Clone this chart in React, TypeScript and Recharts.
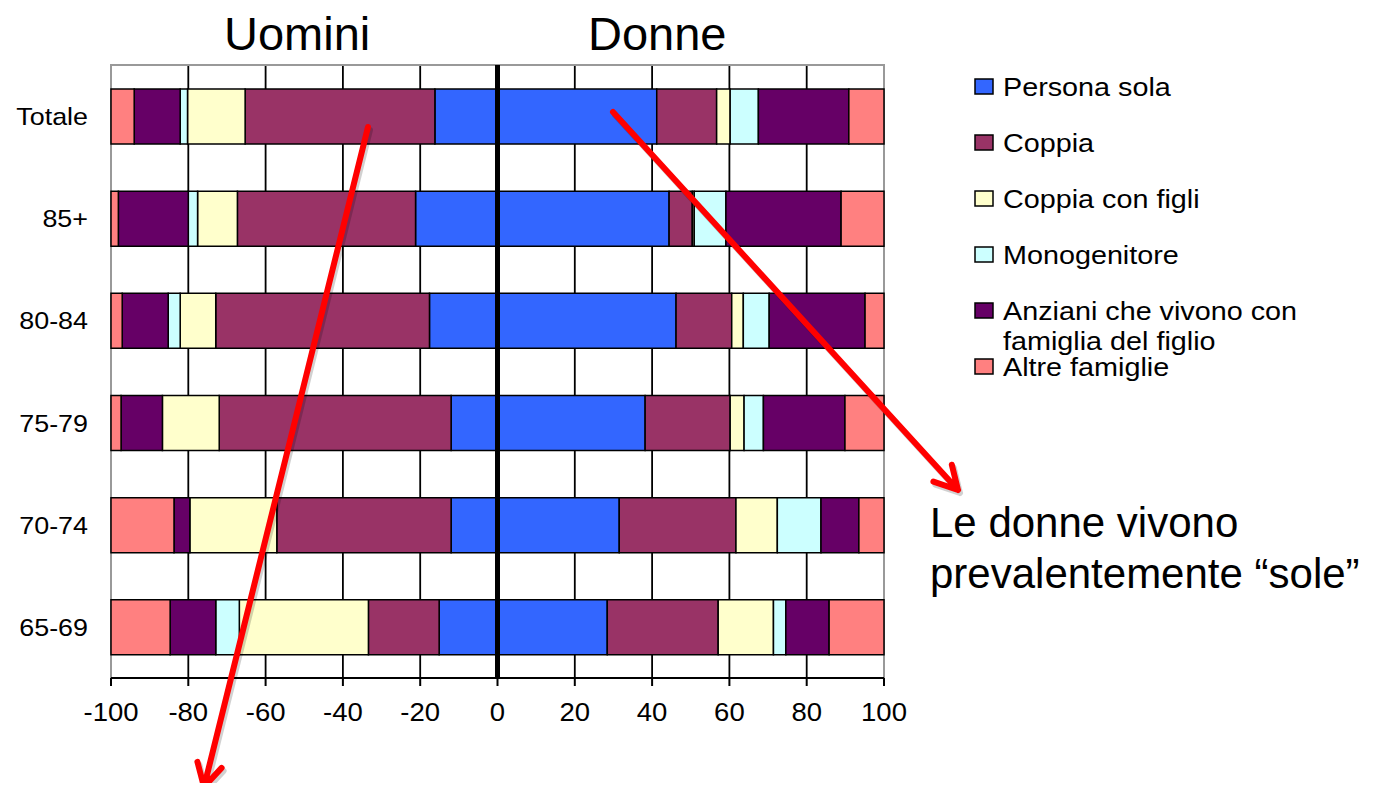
import React from 'react';
import {
  BarChart,
  Bar,
  XAxis,
  YAxis,
  CartesianGrid,
  ReferenceLine,
  ReferenceArea,
} from 'recharts';

const FONT = '"Liberation Sans", Arial, Helvetica, sans-serif';

const AGES = ['Totale', '85+', '80-84', '75-79', '70-74', '65-69'];
const X_TICKS = [-100, -80, -60, -40, -20, 0, 20, 40, 60, 80, 100];

const SERIES = [
  { key: 'sola', name: 'Persona sola', color: '#3366FF' },
  { key: 'coppia', name: 'Coppia', color: '#993366' },
  { key: 'figli', name: 'Coppia con figli', color: '#FFFFCC' },
  { key: 'mono', name: 'Monogenitore', color: '#CCFFFF' },
  { key: 'anziani', name: 'Anziani che vivono con\nfamiglia del figlio', color: '#660066' },
  { key: 'altre', name: 'Altre famiglie', color: '#FF8080' },
];

// Uomini, % (drawn to the left of zero)
const M_SOLA = [16.2, 21.2, 17.6, 12.0, 12.0, 15.1];
const M_COPPIA = [49.1, 46.1, 55.3, 60.0, 45.1, 18.3];
const M_FIGLI = [14.9, 10.3, 9.2, 14.7, 22.5, 33.4];
const M_MONO = [1.9, 2.4, 3.1, 0, 0, 6.1];
const M_ANZIANI = [11.9, 18.1, 11.9, 10.7, 4.1, 11.8];
const M_ALTRE = [6.0, 1.9, 2.9, 2.6, 16.3, 15.3];

// Donne, %
const F_SOLA = [41.2, 44.4, 46.2, 38.2, 31.5, 28.4];
const F_COPPIA = [15.5, 6.0, 14.4, 22.0, 30.2, 28.7];
const F_FIGLI = [3.5, 0.5, 3.0, 3.6, 10.7, 14.3];
const F_MONO = [7.3, 8.2, 6.7, 5.0, 11.3, 3.2];
const F_ANZIANI = [23.4, 29.8, 24.8, 21.1, 9.8, 11.2];
const F_ALTRE = [9.1, 11.1, 4.9, 10.1, 6.5, 14.2];

const MEN = [M_SOLA, M_COPPIA, M_FIGLI, M_MONO, M_ANZIANI, M_ALTRE];
const WOMEN = [F_SOLA, F_COPPIA, F_FIGLI, F_MONO, F_ANZIANI, F_ALTRE];

const data = AGES.map((age, i) => {
  const row: Record<string, any> = { age };
  SERIES.forEach((s, k) => {
    row['m_' + s.key] = -MEN[k][i];
    row['f_' + s.key] = WOMEN[k][i];
  });
  return row;
});

// red annotation arrows (page coords)
const ARROWS = [
  { from: [368, 127], to: [204, 787] },
  { from: [613, 112], to: [958, 490] },
];

const XTick = ({ x, y, payload }: any) => (
  <g transform={`translate(${x},${y}) scale(1.1,1)`}>
    <text x={0} y={0} dy={33} textAnchor="middle" fontSize={25} fill="#000" fontFamily={FONT}>
      {payload.value}
    </text>
  </g>
);

const YTick = ({ x, y, payload }: any) => (
  <g transform={`translate(${x},${y}) scale(1.12,1)`}>
    <text x={0} y={0} dy={9} textAnchor="end" fontSize={24} fill="#000" fontFamily={FONT}>
      {payload.value}
    </text>
  </g>
);

const Arrow = ({ from, to }: { from: number[]; to: number[] }) => {
  const [x1, y1] = from;
  const [x2, y2] = to;
  const a = Math.atan2(y2 - y1, x2 - x1);
  const len = 26;
  const spread = 0.5;
  const p1 = [x2 - len * Math.cos(a - spread), y2 - len * Math.sin(a - spread)];
  const p2 = [x2 - len * Math.cos(a + spread), y2 - len * Math.sin(a + spread)];
  const d = `M${x1},${y1} L${x2},${y2} M${p1[0]},${p1[1]} L${x2},${y2} L${p2[0]},${p2[1]}`;
  return (
    <g fill="none" strokeLinecap="round" strokeLinejoin="round">
      <path d={d} transform="translate(2,3)" stroke="rgba(0,0,0,0.18)" strokeWidth={6} />
      <path d={d} stroke="#FF0000" strokeWidth={6} />
    </g>
  );
};

export default function App() {
  return (
    <div style={{ position: 'relative', width: 1373, height: 791, margin: -8, background: '#fff' }}>
      <BarChart
        width={1373}
        height={791}
        data={data}
        layout="vertical"
        stackOffset="sign"
        barSize={55}
        margin={{ top: 65, right: 489, bottom: 0, left: 0 }}
      >
        <CartesianGrid horizontal={false} stroke="#000" strokeWidth={1.8} />
        <ReferenceArea x1={-100} x2={100} fill="none" stroke="#999" strokeWidth={2} />
        <XAxis
          type="number"
          domain={[-100, 100]}
          ticks={X_TICKS}
          height={113}
          tickSize={8}
          tickMargin={2}
          stroke="#000"
          axisLine={{ stroke: '#000', strokeWidth: 2 }}
          tickLine={{ stroke: '#000', strokeWidth: 2 }}
          tick={<XTick />}
          interval={0}
        />
        <YAxis
          type="category"
          dataKey="age"
          width={111}
          axisLine={false}
          tickLine={false}
          tickSize={0}
          tickMargin={23}
          tick={<YTick />}
          interval={0}
        />
        {SERIES.map((s) => (
          <Bar
            key={'m_' + s.key}
            dataKey={'m_' + s.key}
            name={s.name}
            stackId="s"
            fill={s.color}
            stroke="#000"
            strokeWidth={1.5}
            legendType="none"
            isAnimationActive={false}
          />
        ))}
        {SERIES.map((s) => (
          <Bar
            key={'f_' + s.key}
            dataKey={'f_' + s.key}
            name={s.name}
            stackId="s"
            fill={s.color}
            stroke="#000"
            strokeWidth={1.5}
            isAnimationActive={false}
          />
        ))}
        <ReferenceLine x={0} stroke="#000" strokeWidth={5} />
      </BarChart>

      <svg
        width={1373}
        height={791}
        style={{ position: 'absolute', left: 0, top: 0, pointerEvents: 'none' }}
        fontFamily={FONT}
      >
        <text x={224} y={50} fontSize={47} fill="#000">Uomini</text>
        <text x={588} y={50} fontSize={47} fill="#000">Donne</text>

        {SERIES.map((s, i) => {
          const top = 79 + i * 56;
          const lines = s.name.split('\n');
          return (
            <g key={s.key}>
              <rect x={975} y={top} width={18} height={15} fill={s.color} stroke="#000" strokeWidth={1.5} />
              <g transform={`translate(1003,${top + 17}) scale(1.15,1)`}>
                <text x={0} y={0} fontSize={25} fill="#000">
                  {lines.map((l, j) => (
                    <tspan key={j} x={0} dy={j === 0 ? 0 : 30}>{l}</tspan>
                  ))}
                </text>
              </g>
            </g>
          );
        })}

        <text x={930} y={537} fontSize={42} fill="#000">Le donne vivono</text>
        <text x={930} y={588} fontSize={42} fill="#000">prevalentemente “sole”</text>

        {ARROWS.map((a, i) => (
          <Arrow key={i} from={a.from} to={a.to} />
        ))}
      </svg>
    </div>
  );
}
